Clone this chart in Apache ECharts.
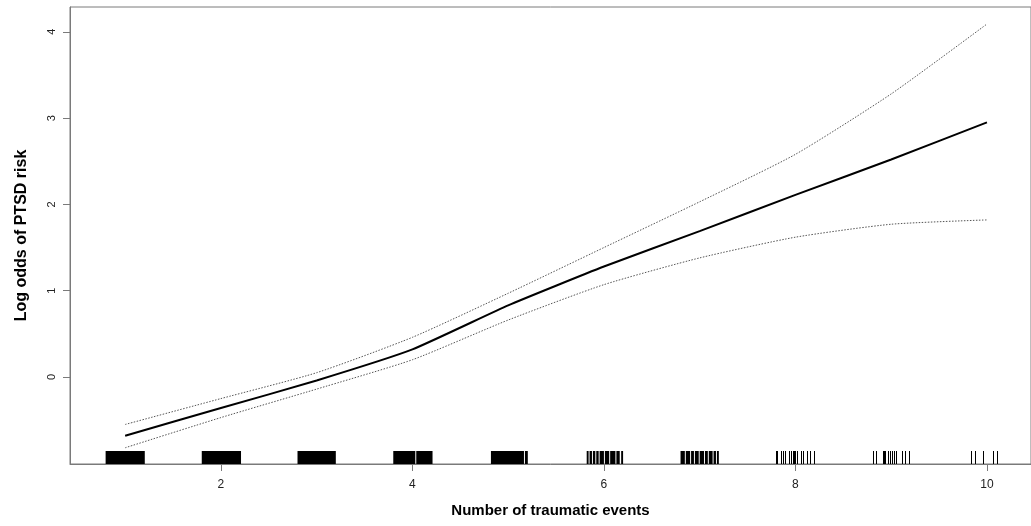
<!DOCTYPE html>
<html>
<head>
<meta charset="utf-8">
<script src="https://cdn.jsdelivr.net/npm/echarts@6/dist/echarts.min.js"></script>
<style>
html,body{margin:0;padding:0;background:#fff;}
#chart{width:1031px;height:526px;}
</style>
</head>
<body>
<div id="chart"></div>
<script>
// ---- data ----
var xValues = [1, 2, 3, 4, 5, 6, 7, 8, 9, 10];
var fitValues = [-0.68, -0.36, -0.04, 0.32, 0.83, 1.28, 1.69, 2.11, 2.52, 2.95];
var upperValues = [-0.55, -0.25, 0.05, 0.46, 0.97, 1.50, 2.03, 2.58, 3.28, 4.09];
var lowerValues = [-0.82, -0.47, -0.14, 0.20, 0.66, 1.07, 1.38, 1.62, 1.77, 1.82];
var xTickValues = [2, 4, 6, 8, 10];
var yTickValues = [0, 1, 2, 3, 4];
// dense rug regions (start, end) on the x scale
var rugBlocks = [
  [0.796, 1.205], [1.80, 2.21], [2.80, 3.20], [3.80, 4.03], [4.04, 4.21],
  [4.82, 5.165], [5.175, 5.205],
  [5.82, 5.84], [5.85, 5.875], [5.885, 5.91], [5.92, 5.945], [5.955, 6.0],
  [6.01, 6.055], [6.065, 6.12], [6.13, 6.165], [6.18, 6.20],
  [6.80, 6.845], [6.855, 6.90], [6.91, 6.94], [6.95, 6.99], [7.0, 7.045],
  [7.055, 7.085], [7.095, 7.135], [7.145, 7.17], [7.18, 7.20]
];
// single rug ticks
var rugTicks = [
  7.80, 7.81, 7.85, 7.87, 7.89, 7.93, 7.95, 7.97, 7.98, 8.0, 8.02, 8.06, 8.08, 8.12, 8.15, 8.19,
  8.81, 8.84, 8.91, 8.92, 8.93, 8.94, 8.97, 8.99, 9.01, 9.03, 9.05, 9.11, 9.14, 9.19,
  9.83, 9.87, 9.96, 10.06, 10.10
];
var xMin = 0.424, xMax = 10.46, yMin = -1.008, yMax = 4.287;

// ---- chart ----
var chart = echarts.init(document.getElementById('chart'), null, {renderer: 'canvas'});
var axisGrey = '#7a7a7a';
var RUG_H = 13;

function pairs(xs, ys) { return xs.map(function (x, i) { return [x, ys[i]]; }); }

var option = {
  backgroundColor: '#fff',
  animation: false,
  grid: {left: 70, top: 7, width: 964, height: 457, show: true, borderColor: axisGrey, borderWidth: 1, backgroundColor: 'transparent'},
  xAxis: {
    type: 'value', min: xMin, max: xMax,
    name: 'Number of traumatic events', nameLocation: 'middle', nameGap: 39,
    nameTextStyle: {fontFamily: 'Liberation Sans', fontSize: 15, fontWeight: 'bold', color: '#000'},
    axisLine: {show: true, onZero: false, lineStyle: {color: axisGrey, width: 1}},
    axisTick: {show: true, length: 7, inside: false, customValues: xTickValues, lineStyle: {color: axisGrey}},
    axisLabel: {customValues: xTickValues, margin: 15, fontFamily: 'Liberation Sans', fontSize: 12, color: '#222', showMinLabel: true, showMaxLabel: true},
    splitLine: {show: false}
  },
  yAxis: {
    type: 'value', min: yMin, max: yMax,
    name: 'Log odds of PTSD risk', nameLocation: 'middle', nameGap: 40, nameRotate: 90,
    nameTextStyle: {fontFamily: 'Liberation Sans', fontSize: 16, fontWeight: 'bold', color: '#000'},
    axisLine: {show: true, onZero: false, lineStyle: {color: axisGrey, width: 1}},
    axisTick: {show: true, length: 7, inside: false, customValues: yTickValues, lineStyle: {color: axisGrey}},
    axisLabel: {customValues: yTickValues, rotate: 90, margin: 13, fontFamily: 'Liberation Sans', fontSize: 11, color: '#222'},
    splitLine: {show: false}
  },
  series: [
    {
      type: 'custom', name: 'rugBlocks', silent: true, clip: true,
      data: rugBlocks,
      renderItem: function (params, api) {
        var p0 = api.coord([api.value(0), yMin]);
        var p1 = api.coord([api.value(1), yMin]);
        return {type: 'rect', shape: {x: p0[0], y: p0[1] - RUG_H, width: Math.max(1, p1[0] - p0[0]), height: RUG_H},
          style: {fill: '#000'}};
      }
    },
    {
      type: 'custom', name: 'rugTicks', silent: true, clip: true,
      data: rugTicks.map(function (v) { return [v]; }),
      renderItem: function (params, api) {
        var p = api.coord([api.value(0), yMin]);
        var x = Math.round(p[0]) + 0.5;
        return {type: 'line', shape: {x1: x, y1: p[1], x2: x, y2: p[1] - RUG_H},
          style: {stroke: '#000', lineWidth: 1}};
      }
    },
    {
      type: 'line', name: 'upper', data: pairs(xValues, upperValues), symbol: 'none', smooth: 0.2,
      lineStyle: {color: '#555', width: 1, type: [1.5, 1.5]}, z: 3
    },
    {
      type: 'line', name: 'lower', data: pairs(xValues, lowerValues), symbol: 'none', smooth: 0.2,
      lineStyle: {color: '#555', width: 1, type: [1.5, 1.5]}, z: 3
    },
    {
      type: 'line', name: 'fit', data: pairs(xValues, fitValues), symbol: 'none', smooth: 0.15,
      lineStyle: {color: '#000', width: 2}, z: 4
    }
  ]
};
chart.setOption(option);
</script>
</body>
</html>
